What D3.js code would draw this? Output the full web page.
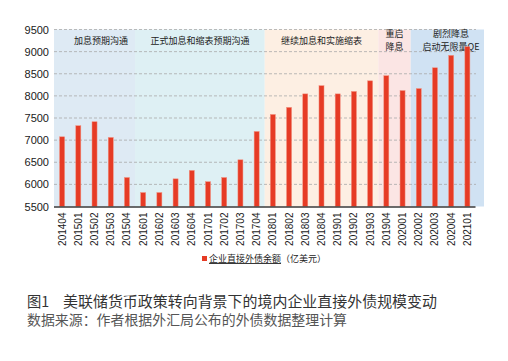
<!DOCTYPE html>
<html>
<head>
<meta charset="utf-8">
<script src="https://cdn.jsdelivr.net/npm/d3@7"></script>
<style>
  body { margin: 0; background: #fff; }
  svg { display: block; }
</style>
</head>
<body>
<div id="chart-area"></div>
<script>
// quarters and corporate direct external debt (100 million USD)
var quarters = ["201404","201501","201502","201503","201504","201601","201602","201603","201604",
    "201701","201702","201703","201704","201801","201802","201803","201804","201901","201902",
    "201903","201904","202001","202002","202003","202004","202101"];
var debt = [7075, 7325, 7415, 7060, 6155, 5815, 5815, 6125, 6315, 6060, 6155, 6555, 7195,
    7580, 7740, 8045, 8230, 8045, 8100, 8340, 8455, 8120, 8165, 8635, 8915, 9110];
var yTicks = [5500, 6000, 6500, 7000, 7500, 8000, 8500, 9000, 9500];

// policy phases: first and last quarter, label lines
var phaseStart = ["201404", "201601", "201801", "201904", "202002"];
var phaseEnd   = ["201504", "201704", "201903", "202001", "202101"];
var phaseLabels = [["加息预期沟通"], ["正式加息和缩表预期沟通"], ["继续加息和实施缩表"],
    ["重启", "降息"], ["剧烈降息", "启动无限量QE"]];
var phaseColors = ["#deeaf4", "#def0f4", "#fdefe3", "#fbe5e4", "#d0e2f3"];

var svg = d3.select("#chart-area")
    .append("svg")
        .attr("width", 508)
        .attr("height", 361);

var x = d3.scaleBand()
    .domain(quarters)
    .range([54, 475.5])
    .paddingInner(0.69)
    .paddingOuter(0.345);

var y = d3.scaleLinear()
    .domain([5500, 9500])
    .range([206.5, 29.5]);

var step = x.step();
var gap = (step - x.bandwidth()) / 2;

// phase backgrounds
svg.selectAll("rect.phase")
    .data(phaseStart)
    .enter()
    .append("rect")
        .attr("class", "phase")
        .attr("x", function(d, i){ return i == 0 ? 54 : x(d) - gap; })
        .attr("y", y(9500))
        .attr("width", function(d, i){
            var x0 = i == 0 ? 54 : x(d) - gap;
            var x1 = x(phaseEnd[i]) + x.bandwidth() + gap;
            if (i == phaseStart.length - 1) x1 = 484;
            return x1 - x0;
        })
        .attr("height", y(5500) - y(9500))
        .attr("fill", function(d, i){ return phaseColors[i]; });

// grid lines
svg.selectAll("line.grid")
    .data(yTicks.slice(1))
    .enter()
    .append("line")
        .attr("x1", 54)
        .attr("x2", 476)
        .attr("y1", function(d){ return y(d); })
        .attr("y2", function(d){ return y(d); })
        .attr("stroke", "#a9a9a9")
        .attr("stroke-width", 0.8)
        .attr("stroke-dasharray", "3,2");

// phase labels
phaseLabels.forEach(function(lines, i){
    var a = x(phaseStart[i]), b = x(phaseEnd[i]) + x.bandwidth();
    var cx = (a + b) / 2;
    if (i == 0) cx = 101;
    if (i == 4) cx = 451;
    lines.forEach(function(t, j){
        svg.append("text")
            .attr("x", cx)
            .attr("y", lines.length == 1 ? 43.5 : 37 + j * 12.5)
            .attr("text-anchor", "middle")
            .attr("font-family", "Noto Sans CJK SC")
            .attr("font-size", "9px")
            .attr("fill", "#222")
            .text(t);
    });
});

// bars
svg.selectAll("rect.bar")
    .data(debt)
    .enter()
    .append("rect")
        .attr("class", "bar")
        .attr("x", function(d, i){ return x(quarters[i]); })
        .attr("y", function(d){ return y(d); })
        .attr("width", x.bandwidth())
        .attr("height", function(d){ return y(5500) - y(d); })
        .attr("fill", "#e63b25")
        .attr("stroke", "#f2907f")
        .attr("stroke-width", 0.5);

// Y axis labels
var yAxisCall = d3.axisLeft(y)
    .tickValues(yTicks)
    .tickFormat(d3.format("d"))
    .tickSize(0)
    .tickPadding(0);
var yAxis = svg.append("g")
    .attr("transform", "translate(49, 0)")
    .call(yAxisCall);
yAxis.select(".domain").remove();
yAxis.selectAll("text")
    .attr("font-family", "Liberation Sans, Arial, sans-serif")
    .attr("font-size", "11px")
    .attr("fill", "#1a1a1a");

// X axis
var xAxisCall = d3.axisBottom(x).tickSize(0);
var xAxis = svg.append("g")
    .attr("transform", "translate(0, " + y(5500) + ")")
    .call(xAxisCall);
xAxis.select(".domain")
    .attr("d", "M54,0.5H475.5")
    .attr("stroke", "#3a3a3a")
    .attr("stroke-width", 1.5);
xAxis.selectAll("text")
    .attr("font-family", "Liberation Sans, Arial, sans-serif")
    .attr("font-size", "10px")
    .attr("fill", "#1a1a1a")
    .attr("text-anchor", "end")
    .attr("dy", "0.35em")
    .attr("x", -6)
    .attr("y", 0)
    .attr("transform", "rotate(-90)");

// legend
svg.append("rect")
    .attr("x", 202)
    .attr("y", 256)
    .attr("width", 5)
    .attr("height", 5)
    .attr("fill", "#e63b25");
var legend = svg.append("text")
    .attr("x", 209)
    .attr("y", 262)
    .attr("font-family", "Noto Sans CJK SC")
    .attr("font-size", "9px")
    .attr("fill", "#222");
legend.append("tspan")
    .attr("text-decoration", "underline")
    .text("企业直接外债余额");
legend.append("tspan")
    .text("（亿美元）");

// caption
var caption = svg.append("text")
    .attr("y", 306.5)
    .attr("font-family", "Noto Sans CJK SC")
    .attr("font-size", "14.3px")
    .attr("fill", "#333");
caption.append("tspan")
    .attr("x", 27)
    .text("图1");
caption.append("tspan")
    .attr("x", 63)
    .attr("textLength", 374)
    .attr("lengthAdjust", "spacingAndGlyphs")
    .text("美联储货币政策转向背景下的境内企业直接外债规模变动");
svg.append("text")
    .attr("x", 27)
    .attr("y", 324.5)
    .attr("font-family", "Noto Sans CJK SC")
    .attr("font-size", "13.6px")
    .attr("fill", "#555")
    .attr("textLength", 320)
    .attr("lengthAdjust", "spacingAndGlyphs")
    .text("数据来源：作者根据外汇局公布的外债数据整理计算");
</script>
</body>
</html>
